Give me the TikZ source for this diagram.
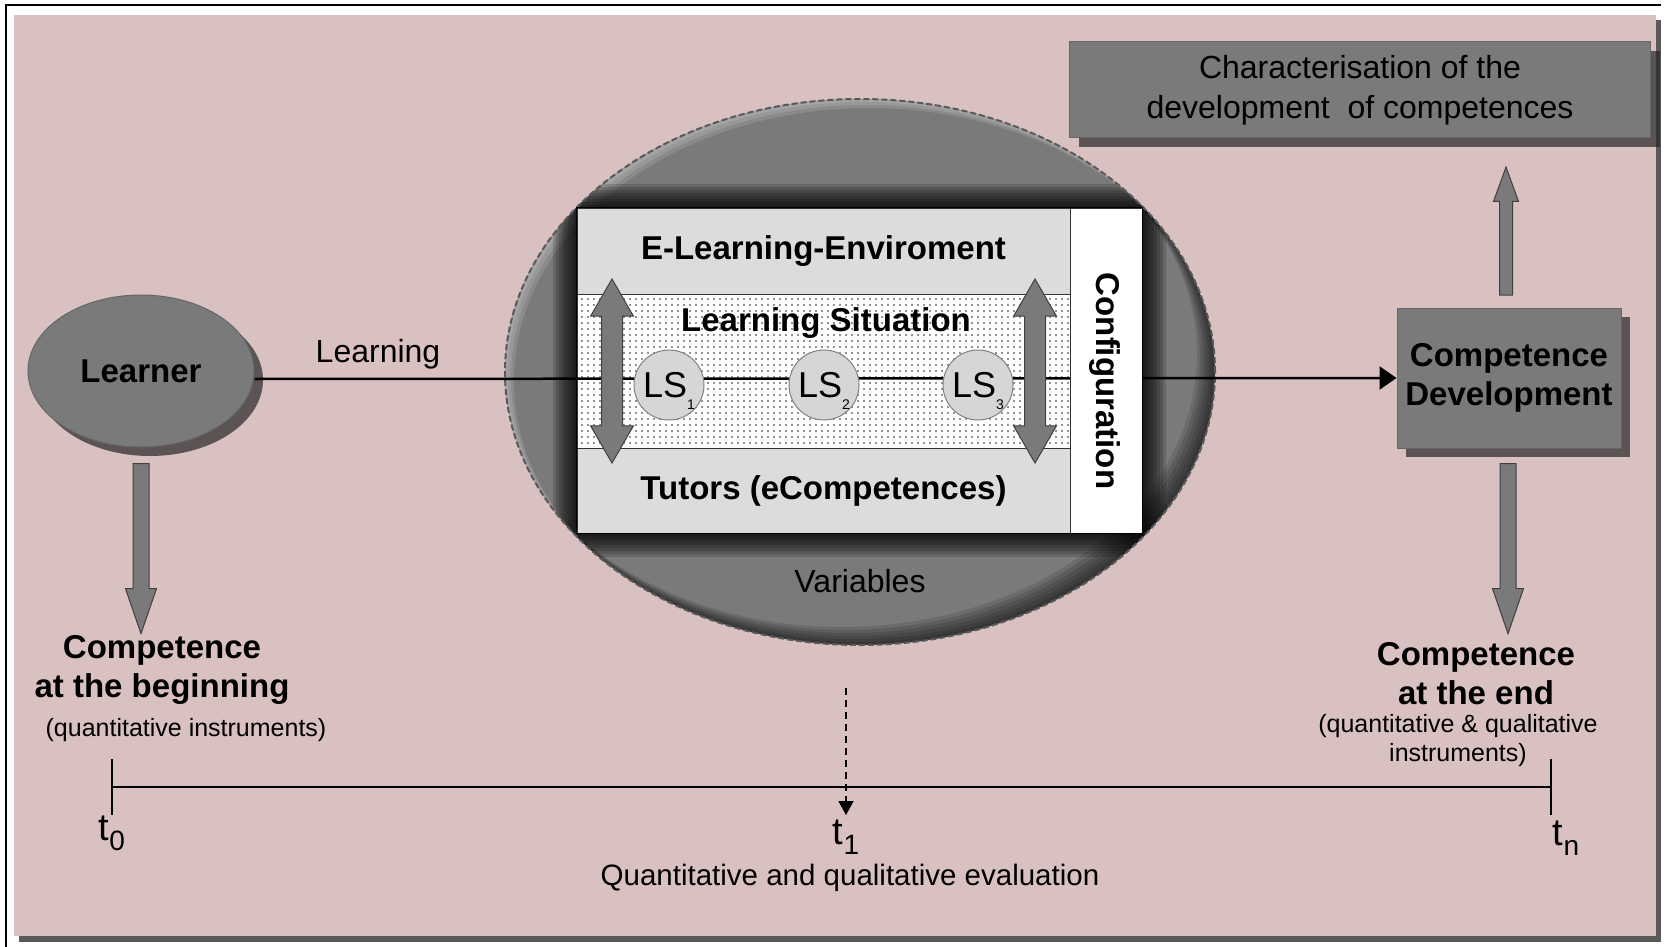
\documentclass[tikz,border=0pt]{standalone}
\usepackage{fontspec}
\setmainfont{Liberation Sans}
\usepackage{tikz}
\usetikzlibrary{calc, positioning, shapes.geometric, shapes.arrows, shadows, patterns.meta, arrows.meta}
\definecolor{bgpink}{RGB}{217,192,193}
\definecolor{boxgray}{RGB}{122,122,122}
\definecolor{bandgray}{RGB}{220,220,220}
\definecolor{lsgray}{RGB}{214,214,214}
\newcommand{\lssub}[1]{\raisebox{-12pt}{\fontsize{14}{14}\selectfont #1}}
\newcommand{\tsub}[1]{\raisebox{-10pt}{\fontsize{28}{28}\selectfont #1}}
\tikzstyle{boldtxt}=[font=\fontsize{33}{39}\selectfont\bfseries, align=center, inner sep=0pt]
\tikzstyle{plaintxt}=[font=\fontsize{32}{40}\selectfont, align=center, inner sep=0pt]
\tikzstyle{smalltxt}=[font=\fontsize{25}{29}\selectfont, align=center, inner sep=0pt]
\tikzstyle{timetxt}=[font=\fontsize{38}{40}\selectfont, inner sep=0pt]
\tikzstyle{graybox}=[draw=black!60, fill=boxgray, line width=1pt, drop shadow={shadow xshift=9pt, shadow yshift=-9pt, opacity=.7, fill=black!85}]
\tikzstyle{band}=[draw=black!80, line width=1pt, fill=bandgray, inner sep=0pt]
\tikzstyle{dotband}=[draw=black!80, line width=1pt, inner sep=0pt, preaction={fill=white}, pattern={Dots[distance=6pt, radius=0.8pt]}, pattern color=black!85]
\tikzstyle{lsnode}=[circle, draw=black!50, fill=lsgray, line width=1pt, minimum size=70pt, inner sep=0pt, font=\fontsize{36}{36}\selectfont, text height=25pt, text depth=0pt]
\tikzstyle{blockarr}=[single arrow, draw=black!75, fill=boxgray, line width=1pt, inner sep=0pt, inner ysep=7.5pt, single arrow head extend=7.5pt, single arrow tip angle=38]
\tikzstyle{updown}=[double arrow, draw=black!75, fill=boxgray, line width=1pt, inner sep=0pt, inner ysep=10pt, double arrow head extend=11pt, double arrow tip angle=60, minimum height=184pt]
\tikzstyle{conn}=[line width=2.5pt]
\tikzstyle{evarrow}=[line width=1.5pt, dash pattern=on 7pt off 5pt, -{Triangle[length=14pt,width=15pt]}]
\tikzset{>={Triangle[length=17pt,width=23pt]}}

\begin{document}
\begin{tikzpicture}[x=1pt, y=-1pt]
\useasboundingbox (0,0) rectangle (1665,947);
\fill[white] (0,0) rectangle (1665,947);
\fill[black!65] (19,20) rectangle (1661,942);
\fill[bgpink] (14,15) rectangle (1656,936);
\draw[line width=2pt] (6,947) -- (6,5) -- (1661,5);
%
\node[ellipse, graybox, boldtxt, minimum width=226pt, minimum height=152pt] (learner) at (141,371) {Learner};
\node[blockarr, rotate=-90, minimum height=170pt] (arr1) at (141,537) {};
\node[boldtxt] (cbeg) at (162,670) {Competence\\at the beginning};
\node[smalltxt] (cbegsub) at (186,730) {(quantitative instruments)};
%
\node[graybox, boldtxt, minimum width=224pt, minimum height=140pt] (cd) at (1509,378) {Competence\\Development};
\node[blockarr, rotate=-90, minimum height=170pt] (arr2) at (1508,537) {};
\node[blockarr, rotate=90, minimum height=128pt, inner ysep=6pt, single arrow head extend=6pt, single arrow tip angle=40] (arr3) at (1506,240) {};
\node[graybox, plaintxt, minimum width=581pt, minimum height=96pt] (chr) at (1360,90) {Characterisation of the\\development~ of competences};
\node[boldtxt] (cend) at (1476,674) {Competence\\at the end};
\node[smalltxt] (cendsub) at (1458,741) {(quantitative \& qualitative\\instruments)};
%
\node[ellipse, fill=boxgray, minimum width=710pt, minimum height=546pt, inner sep=0pt] (env) at (860,372) {};
\begin{scope}
\clip (env.center) ellipse [x radius=355pt, y radius=273pt];
\foreach \d in {3,6,...,18}
  \fill[black, opacity=.12, even odd rule] (860,372) ellipse [x radius=355pt, y radius=273pt] (860-\d,372-\d) ellipse [x radius=355pt, y radius=273pt];
\foreach \d in {3,6,9}
  \fill[white, opacity=.12, even odd rule] (860,372) ellipse [x radius=355pt, y radius=273pt] (860+\d,372+\d) ellipse [x radius=355pt, y radius=273pt];
\foreach \w in {3,6,...,24}
  \fill[black, opacity=.16] (577-\w,208-\w) rectangle (1142+\w,533+\w);
\end{scope}
\draw[black!65, line width=2pt, dash pattern=on 6pt off 3pt] (env.center) ellipse [x radius=355pt, y radius=273pt];
%
\node[band, boldtxt, minimum width=493pt, minimum height=86pt] (elenv) at (823.5,251) {E-Learning-Enviroment};
\node[dotband, minimum width=493pt, minimum height=154pt] (lsband) at (823.5,371) {};
\node[band, boldtxt, minimum width=493pt, minimum height=85pt] (tutors) at (823.5,490.5) {Tutors (eCompetences)};
\node[boldtxt] (lstxt) at (826,323) {Learning Situation};
%
\node[plaintxt] (learnlbl) at (378,354) {Learning};
\draw[conn, ->] ([yshift=-8pt]learner.east) -- (cd.west);
%
\node[band, fill=white, minimum width=72pt, minimum height=325pt] (config) at (1106,370.5) {};
\node[boldtxt, rotate=-90] (conftxt) at (1105,381) {Configuration};
\draw[line width=1.5pt] (elenv.north west) rectangle (config.south east);
%
\foreach \i/\x in {1/669, 2/824, 3/978}
  \node[lsnode] (ls\i) at (\x,385) {LS\lssub{\i}};
\foreach \x [count=\i] in {612, 1035}
  \node[updown, rotate=90] (ud\i) at (\x,371) {};
\node[plaintxt] (var) at (860,581) {Variables};
%
\coordinate (tick0) at (112,787);
\coordinate (tickn) at (1551,787);
\draw[line width=1.5pt] (tick0) -- (tickn);
\foreach \c in {tick0, tickn}
  \draw[line width=1.5pt] ([yshift=28pt]\c) -- ([yshift=-28pt]\c);
\node[timetxt] (t0) at (112,833) {t\tsub{0}};
\node[timetxt] (t1) at (846,837) {t\tsub{1}};
\node[timetxt] (tn) at (1566,838) {t\tsub{n}};
\coordinate (evtop) at (846,688);
\coordinate (evtip) at (846,815);
\draw[evarrow] (evtop) -- (evtip);
\node[plaintxt, font=\fontsize{29.5}{34}\selectfont] (evtxt) at (850,878) {Quantitative and qualitative evaluation};
%
\end{tikzpicture}
\end{document}
